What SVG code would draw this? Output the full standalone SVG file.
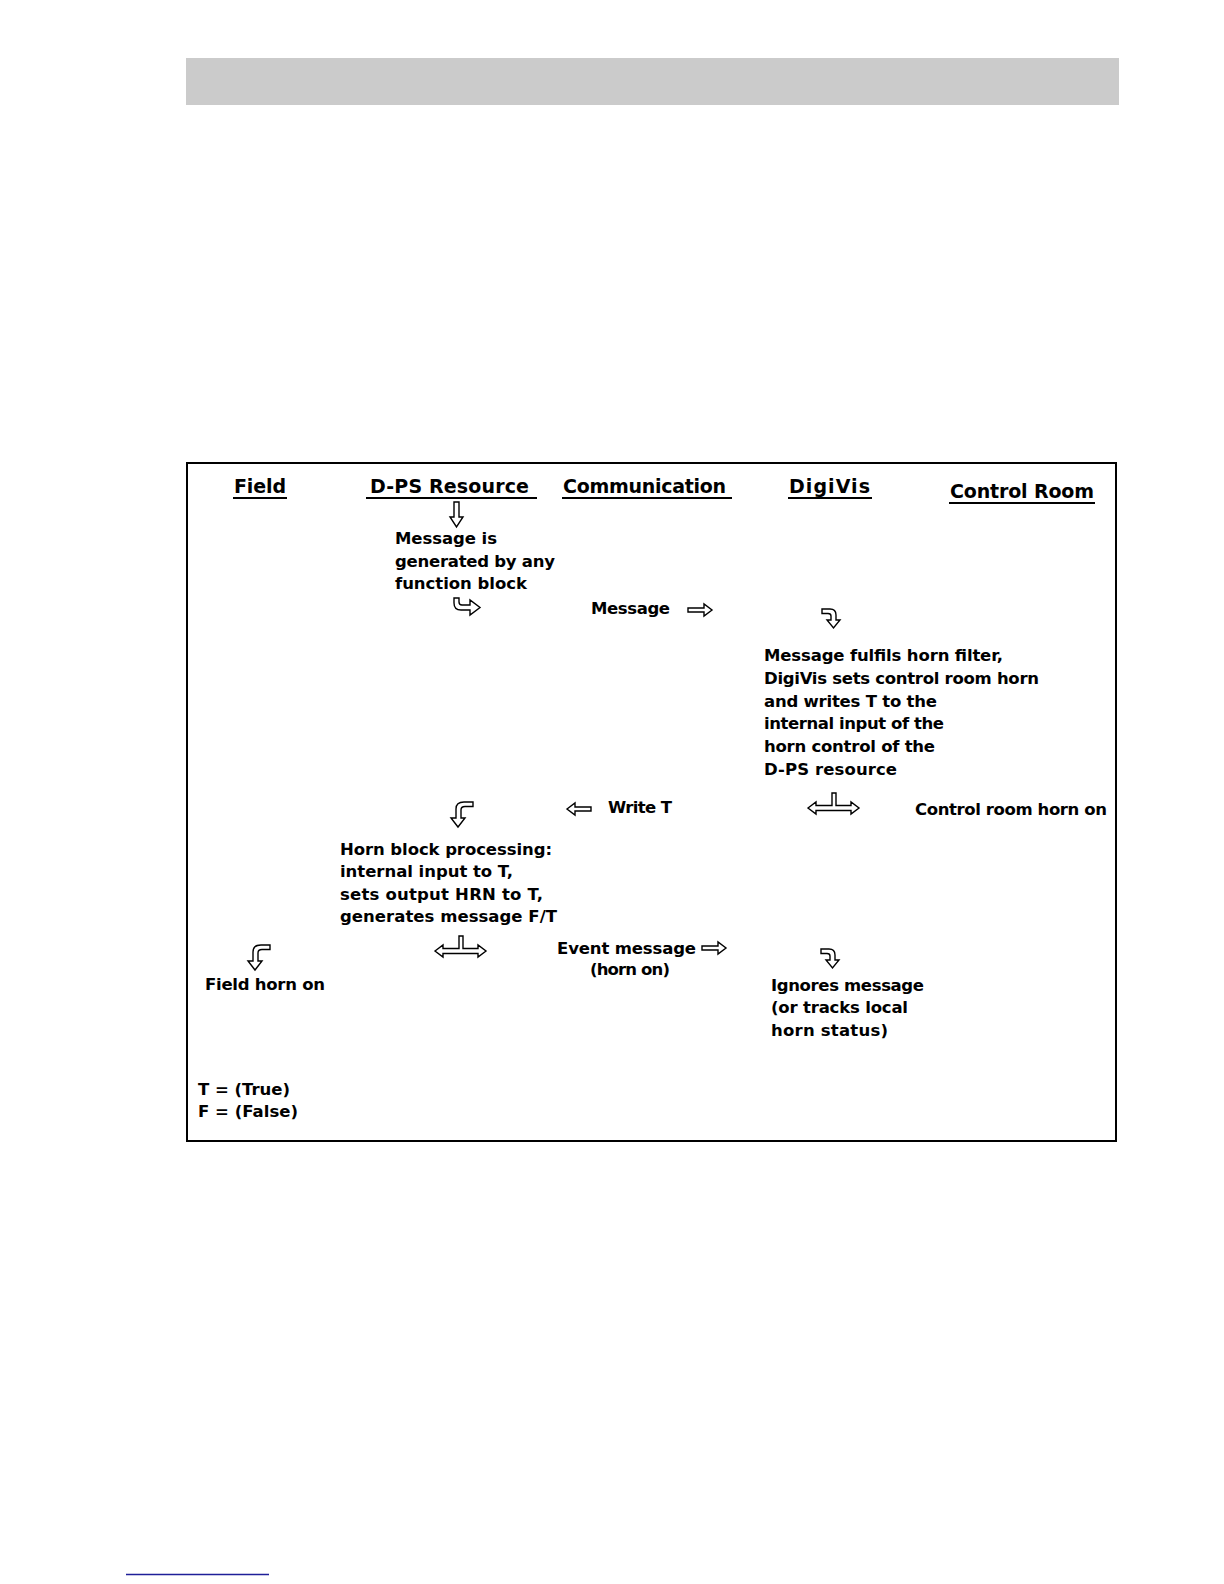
<svg xmlns="http://www.w3.org/2000/svg" width="1224" height="1584" viewBox="0 0 1224 1584">
<defs>
<style>
text{font-family:"DejaVu Sans","Liberation Sans",Arial,sans-serif;font-weight:bold;fill:#000}
.h{font-size:19px}
.b{font-size:16.5px}
.ul{stroke:#000;stroke-width:2}
.arr{fill:#fff;stroke:#000;stroke-width:1.4;stroke-linejoin:miter}
</style>
<path id="aDown" d="M454,502 L459,502 L459,517 L463,517 L456.5,527 L450,517 L454,517 Z"/>
<path id="aRight" d="M0,-2 L16,-2 L16,-6 L24,0 L16,6 L16,2 L0,2 Z"/>
<path id="aHookR" d="M454,598 L459,598 L459,602 Q459,605 462,605 L470,605 L470,600 L480,607.5 L470,615 L470,610 L461,610 Q454,610 454,603 Z"/>
<path id="aCurveDR" d="M0,0 L8,0 Q14,0 14,6 L14,11 L18,11 L11.5,19 L5,11 L9,11 L9,7 Q9,4.5 6,4.5 L0,4.5 Z"/>
<path id="aCurveDL" d="M20,0 L11,0 Q3,0 3,7 L3,16 L-2,16 L5,25 L12,16 L8,16 L8,8 Q8,4.5 12,4.5 L20,4.5 Z"/>
<path id="aTee" d="M0,15 L8,9 L8,12.5 L24,12.5 L24,0 L28,0 L28,12.5 L43,12.5 L43,9 L51,15 L43,21 L43,17.5 L8,17.5 L8,21 Z"/>
</defs>
<rect width="1224" height="1584" fill="#fff"/>
<rect x="186" y="58" width="933" height="47" fill="#cbcbcb"/>
<line x1="126" y1="1574.5" x2="269" y2="1574.5" stroke="#1f1f99" stroke-width="1.5"/>
<rect x="187" y="463" width="929" height="678" fill="none" stroke="#000" stroke-width="2"/>

<g id="headers">
<g id="h-field"><text class="h" x="234" y="493" textLength="52">Field</text><line class="ul" x1="233" y1="498" x2="287" y2="498"/></g>
<g id="h-dps"><text class="h" x="370" y="493" textLength="159">D-PS Resource</text><line class="ul" x1="366" y1="498" x2="537" y2="498"/></g>
<g id="h-comm"><text class="h" x="563" y="493" textLength="163">Communication</text><line class="ul" x1="562" y1="498" x2="732" y2="498"/></g>
<g id="h-digivis"><text class="h" x="789" y="493" textLength="81">DigiVis</text><line class="ul" x1="788" y1="498" x2="872" y2="498"/></g>
<g id="h-control"><text class="h" x="950" y="498" textLength="144">Control Room</text><line class="ul" x1="949" y1="503" x2="1095" y2="503"/></g>
</g>

<g id="n-generated">
<text class="b" x="395" y="544" textLength="102">Message is</text>
<text class="b" x="395" y="567" textLength="160">generated by any</text>
<text class="b" x="395" y="589" textLength="132">function block</text>
</g>
<g id="n-message"><text class="b" x="591" y="614" textLength="79">Message</text></g>
<g id="n-filter">
<text class="b" x="764" y="661" textLength="239">Message fulfils horn filter,</text>
<text class="b" x="764" y="684" textLength="275">DigiVis sets control room horn</text>
<text class="b" x="764" y="707" textLength="173">and writes T to the</text>
<text class="b" x="764" y="729" textLength="180">internal input of the</text>
<text class="b" x="764" y="752" textLength="171">horn control of the</text>
<text class="b" x="764" y="775" textLength="133">D-PS resource</text>
</g>
<g id="n-writet"><text class="b" x="608" y="813" textLength="64">Write T</text></g>
<g id="n-crhorn"><text class="b" x="915" y="815" textLength="192">Control room horn on</text></g>
<g id="n-hornblock">
<text class="b" x="340" y="855" textLength="212">Horn block processing:</text>
<text class="b" x="340" y="877" textLength="173">internal input to T,</text>
<text class="b" x="340" y="900" textLength="203">sets output HRN to T,</text>
<text class="b" x="340" y="922" textLength="217">generates message F/T</text>
</g>
<g id="n-event">
<text class="b" x="557" y="954" textLength="139">Event message</text>
<text class="b" x="590" y="975" textLength="80">(horn on)</text>
</g>
<g id="n-fieldhorn"><text class="b" x="205" y="990" textLength="120">Field horn on</text></g>
<g id="n-ignores">
<text class="b" x="771" y="991" textLength="153">Ignores message</text>
<text class="b" x="771" y="1013" textLength="137">(or tracks local</text>
<text class="b" x="771" y="1036" textLength="117">horn status)</text>
</g>
<g id="n-legend">
<text class="b" x="198" y="1095" textLength="92">T = (True)</text>
<text class="b" x="198" y="1117" textLength="100">F = (False)</text>
</g>

<g id="connectors">
<use href="#aDown" class="arr"/>
<use href="#aHookR" class="arr"/>
<use href="#aRight" class="arr" transform="translate(688,610)"/>
<use href="#aCurveDR" class="arr" transform="translate(822,609)"/>
<use href="#aRight" class="arr" transform="translate(702,948)"/>
<use href="#aCurveDR" class="arr" transform="translate(821,949)"/>
<path class="arr" d="M567,809 L575,803 L575,807 L591,807 L591,811 L575,811 L575,815 Z"/>
<use href="#aCurveDL" class="arr" transform="translate(453,802)"/>
<use href="#aCurveDL" class="arr" transform="translate(250,945)"/>
<use href="#aTee" class="arr" transform="translate(808,793)"/>
<use href="#aTee" class="arr" transform="translate(435,936)"/>
</g>
</svg>
